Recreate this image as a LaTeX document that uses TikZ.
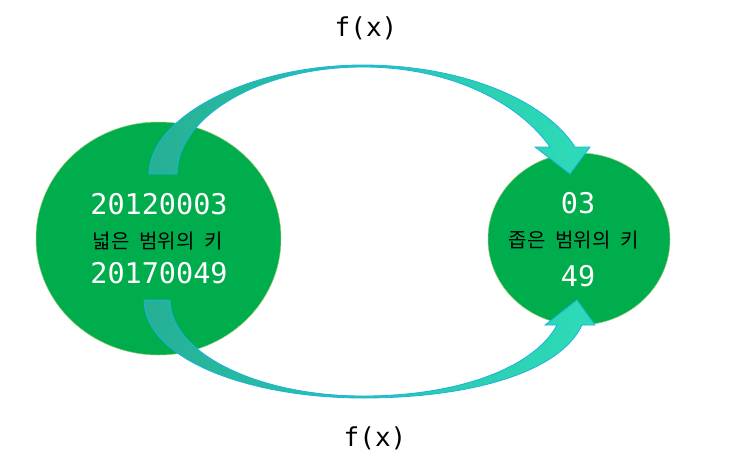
\documentclass[tikz,border=0pt]{standalone}
\usepackage{fontspec}
\newfontfamily\numfont{DejaVu Sans Mono}
\newfontfamily\krfont[WordSpace=2.2]{Noto Sans CJK KR}
\usetikzlibrary{shapes.geometric}
\definecolor{keygreen}{RGB}{0,173,77}
\definecolor{keyrim}{RGB}{150,200,110}
\definecolor{arrdark}{RGB}{38,176,150}
\definecolor{arrlight}{RGB}{45,219,185}
\definecolor{arredge}{RGB}{25,178,230}

\begin{document}
\begin{tikzpicture}[x=1pt, y=-1pt,
  key/.style={ellipse, fill=keygreen, draw=keyrim, line width=0.5pt, inner sep=0pt},
  arr/.style={left color=arrdark, right color=arrlight, draw=arredge, line width=0.8pt, line join=miter},
  num/.style={text=white, font=\numfont\fontsize{28.5}{30}\selectfont},
  lbl/.style={text=black, font=\krfont\fontsize{20}{22}\selectfont},
  fx/.style={text=black, font=\numfont\fontsize{26}{28}\selectfont}]
\useasboundingbox (0,0) rectangle (738,474);
\node[key, minimum width=245pt, minimum height=233pt](wide) at (158.5,238.5){};
\node[key, minimum width=182pt, minimum height=172pt](narrow) at (579,239){};
\path[arr] (149,174) .. controls (150,116) and (250,65) .. (363,65)
  .. controls (462,65) and (545,100) .. (575,147) -- (590,147) -- (570,174) -- (535,147) -- (550,147)
  .. controls (520,104) and (452,67) .. (363,67)
  .. controls (258,67) and (177,118) .. (177,174) -- cycle;
\path[arr] (144,300) .. controls (145,360) and (250,398) .. (363,398)
  .. controls (472,398) and (560,372) .. (582,325) -- (595,325) -- (577,300) -- (545,325) -- (557,325)
  .. controls (535,366) and (462,396) .. (363,396)
  .. controls (256,396) and (170,352) .. (170,300) -- cycle;
\node[num](w1) at (159,204){20120003};
\node[lbl](w2) at (158,241){넓은 범위의 키};
\node[num](w3) at (159,273){20170049};
\node[num](n1) at (578,203){03};
\node[lbl](n2) at (574,240){좁은 범위의 키};
\node[num](n3) at (578,276){49};
\node[fx](ftop) at (366,28){f(x)};
\node[fx](fbot) at (375,438){f(x)};
\end{tikzpicture}
\end{document}
